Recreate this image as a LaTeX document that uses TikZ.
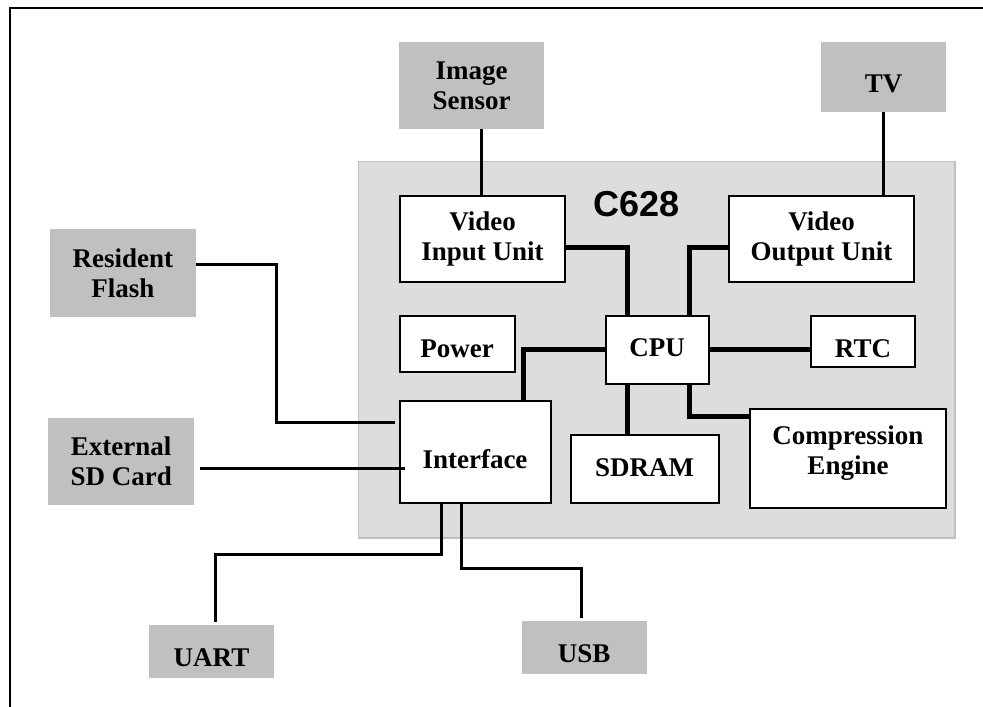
\documentclass[tikz,border=0pt]{standalone}
\usepackage{fontspec}
\setmainfont{Liberation Serif}
\newfontfamily\chipfont{Liberation Sans}
\definecolor{extgray}{RGB}{192,192,192}
\definecolor{chipgray}{RGB}{221,221,221}
\begin{document}
\begin{tikzpicture}[x=1pt,y=-1pt,
    every node/.style={font=\fontsize{27}{30}\selectfont\bfseries, align=center, inner sep=0pt},
    extbox/.style={fill=extgray},
    unitbox/.style={draw, fill=white, line width=2pt},
    capshift/.style={text height=#1, text depth=0pt},
    thinwire/.style={line width=3pt},
    buswire/.style={line width=5pt}]
    \useasboundingbox (0,0) rectangle (983,707);
    \draw[line width=2pt] (9.5,707) -- (9.5,8) -- (983,8);
    % chip outline
    \draw[fill=chipgray, draw=extgray, line width=1.5pt] (358.6,161.5) rectangle (955,538);
    \node (c628) at (636.5,204) {\chipfont\fontsize{36}{40}\selectfont C628};
    % outside parts
    \node[extbox, minimum width=145pt, minimum height=86.5pt] (sensor) at (471.5,85.3) {Image\\Sensor};
    \node[extbox, capshift=32pt, minimum width=125pt, minimum height=69.5pt] (tv) at (883.5,76.8) {TV};
    \node[extbox, minimum width=145.5pt, minimum height=87.7pt] (flash) at (122.8,272.9) {Resident\\Flash};
    \node[extbox, minimum width=145.7pt, minimum height=87pt] (sdcard) at (121.2,461.5) {External\\SD Card};
    \node[extbox, capshift=29.6pt, minimum width=125pt, minimum height=53.3pt] (uart) at (211.5,651.7) {UART};
    \node[extbox, capshift=31pt, minimum width=125pt, minimum height=53.3pt] (usb) at (584.2,647.4) {USB};
    % units on the chip
    \node[unitbox, minimum width=165pt, minimum height=86pt] (viu) at (482.5,239) {Video\\Input Unit};
    \node[unitbox, minimum width=185pt, minimum height=86pt] (vou) at (821.5,239) {Video\\Output Unit};
    \node[unitbox, capshift=26pt, minimum width=115pt, minimum height=56.6pt] (power) at (457,344) {Power};
    \node[unitbox, capshift=14pt, minimum width=103pt, minimum height=68.3pt] (cpu) at (657,349.8) {CPU};
    \node[unitbox, capshift=31pt, minimum width=104pt, minimum height=51.7pt] (rtc) at (863,341.5) {RTC};
    \node[unitbox, capshift=32pt, minimum width=151pt, minimum height=102.6pt] (iface) at (475,452) {Interface};
    \node[unitbox, capshift=14.5pt, minimum width=148pt, minimum height=68.5pt] (sdram) at (644.6,469.2) {SDRAM};
    \node[unitbox, text depth=17pt, minimum width=196.5pt, minimum height=99.5pt] (comp) at (848,458.7) {Compression\\Engine};
    % bends
    \coordinate (fbend) at (276,422.7);
    \coordinate (ubend) at (215,554.3);
    \coordinate (sbend) at (581.7,568.3);
    % wires to the outside
    \draw[thinwire] ([xshift=10.3pt]sensor.south) -- ([xshift=10.3pt]sensor.south |- viu.north);
    \draw[thinwire] (tv) -- (tv |- vou.north);
    \draw[thinwire, shorten >=4pt] ([yshift=8.6pt]flash.east) -| (fbend) -- (fbend -| iface.west);
    \draw[thinwire] ([xshift=6pt,yshift=-6.8pt]sdcard.east) -- ([xshift=6pt,yshift=-6.8pt]sdcard.east -| iface.west);
    \draw[thinwire, shorten >=2.5pt] ([xshift=-33.3pt]iface.south) |- (ubend) -- (ubend |- uart.north);
    \draw[thinwire, shorten >=2.5pt] ([xshift=-13.3pt]iface.south) |- (sbend) -- (sbend |- usb.north);
    % buses inside
    \draw[buswire] ([yshift=-8.7pt]viu.east) -| ([xshift=-29.2pt]cpu.north);
    \draw[buswire] ([yshift=-8.7pt]vou.west) -| ([xshift=32.3pt]cpu.north);
    \draw[buswire] (cpu.east) -- (cpu.east -| rtc.west);
    \draw[buswire] (cpu.west) -| ([xshift=48.8pt]iface.north);
    \draw[buswire] ([xshift=-30pt]cpu.south) -- ([xshift=-30pt]cpu.south |- sdram.north);
    \draw[buswire] ([xshift=32.3pt]cpu.south) |- ([yshift=42pt]comp.west);
\end{tikzpicture}
\end{document}
